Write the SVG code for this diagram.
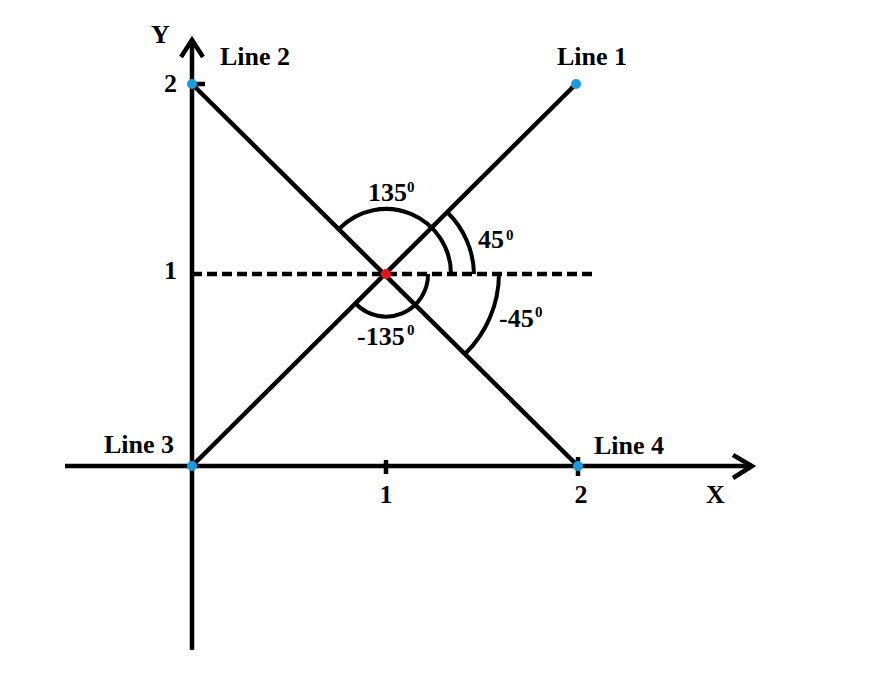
<svg xmlns="http://www.w3.org/2000/svg" width="876" height="700" viewBox="0 0 876 700">
<style>
.ln{stroke:#000;stroke-width:4.5;fill:none;stroke-linecap:butt}
.arc{stroke:#000;stroke-width:4;fill:none}
.t{font-family:"Liberation Serif","Times New Roman",serif;font-weight:bold;font-size:26px;fill:#000}
.s{font-family:"Liberation Serif","Times New Roman",serif;font-weight:bold;font-size:15px;fill:#000}
.bd{fill:#1a9be0}
</style>
<rect width="876" height="700" fill="#fff"/>
<g id="axes">
<line class="ln" x1="65" y1="466" x2="751" y2="466"/>
<polyline class="ln" points="733,455 752,466 733,478" stroke-linejoin="miter"/>
<line class="ln" x1="192" y1="650" x2="192" y2="41"/>
<polyline class="ln" points="181,57 192,40 203,57" stroke-linejoin="miter"/>
<line class="ln" x1="192" y1="84" x2="205" y2="84"/>
<line class="ln" x1="386" y1="460" x2="386" y2="474"/>
<line class="ln" x1="578" y1="457" x2="578" y2="476"/>
</g>
<g id="connectors">
<line class="ln" x1="192" y1="466" x2="576" y2="84"/>
<line class="ln" x1="192" y1="84" x2="578" y2="466"/>
<line class="ln" x1="192" y1="274" x2="592" y2="274" stroke-dasharray="10 5"/>
<path class="arc" d="M340,228 A65,65 0 0 1 451,274"/>
<path class="arc" d="M448,213 A88,88 0 0 1 474,274"/>
<path class="arc" d="M499,274 A113,113 0 0 1 465,354"/>
<path class="arc" d="M428,274 A42,42 0 0 1 356,304"/>
</g>
<g id="points">
<circle class="bd" cx="192" cy="84" r="5"/>
<circle class="bd" cx="576" cy="84" r="5"/>
<circle class="bd" cx="192" cy="466" r="5"/>
<circle class="bd" cx="578" cy="466" r="5"/>
<circle cx="386" cy="274" r="5" fill="#e8121c"/>
</g>
<g id="labels">
<text class="t" x="151" y="43">Y</text>
<text class="t" x="706" y="503">X</text>
<text class="t" x="220" y="65">Line 2</text>
<text class="t" x="557" y="65">Line 1</text>
<text class="t" x="104" y="453">Line 3</text>
<text class="t" x="594" y="454">Line 4</text>
<text class="t" x="164" y="92">2</text>
<text class="t" x="164" y="279">1</text>
<text class="t" x="386" y="503" text-anchor="middle">1</text>
<text class="t" x="581" y="503" text-anchor="middle">2</text>
<text class="t" x="368" y="201">135</text><text class="s" x="407" y="192">0</text>
<text class="t" x="478" y="248">45</text><text class="s" x="506" y="240">0</text>
<text class="t" x="499" y="327">-45</text><text class="s" x="535" y="317">0</text>
<text class="t" x="357" y="345">-135</text><text class="s" x="407" y="335">0</text>
</g>
</svg>
